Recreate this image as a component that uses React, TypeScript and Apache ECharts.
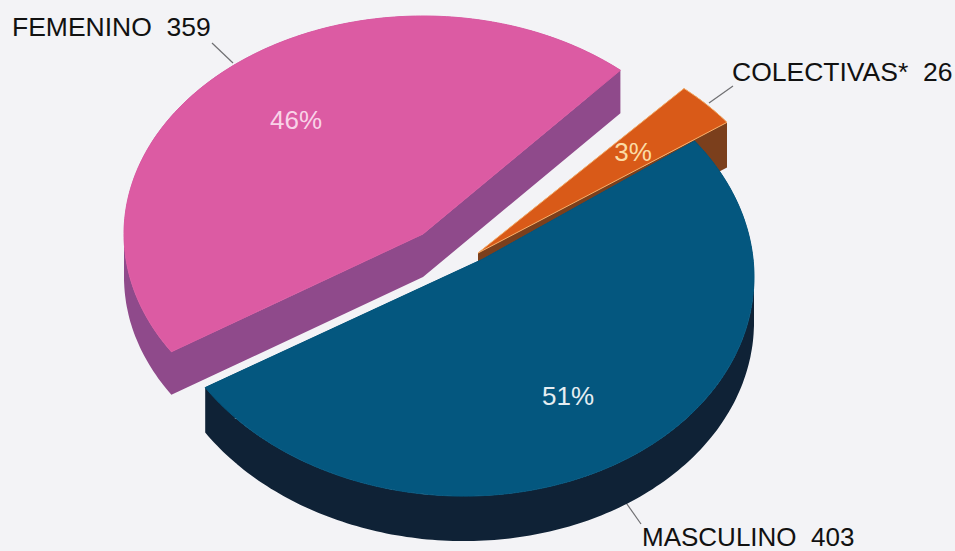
import React, { useEffect, useRef } from "react";
import * as echarts from "echarts";

// Data, in clockwise order around the pie
const categories = ["FEMENINO", "COLECTIVAS*", "MASCULINO"];
const counts = [359, 26, 403];

// Styles and layout, kept apart from the data
const topColors = ["#dc5ba3", "#d95a18", "#04577f"];
const sideColors = ["#8f4a8b", "#7b3f1c", "#0f2236"];
const edgeColors = ["#dc5ba3", "#f7b06c", "#04577f"];
const percentColors = ["#f9d3e8", "#fbdca6", "#e6eef2"];
const centersX = [423, 482, 456];
const centersY = [234, 256, 271];
const apexX = [423, 478, 483];
const apexY = [234, 253, 259];
const radiiX = [299, 306, 298];
const radiiY = [218, 223, 225];
const shears = [0, 0, 0.02];
const depths = [43, 45, 45];
const percentX = [296, 633, 568];
const percentY = [120, 152, 396];
const labelX = [12, 732, 642];
const labelY = [27, 72, 537];
const labelSizes = [26.5, 26.5, 26];
const leaderLines = [
  [212, 43, 233, 63],
  [733, 86, 709, 103],
  [641, 524, 622, 497],
];
const START_ANGLE = 147.3;
const FAMILY = '"Liberation Sans", Arial, sans-serif';

function renderSlice(params: any, api: any) {
  const i = params.dataIndex;
  const total = counts.reduce((a, b) => a + b, 0);
  const before = counts.slice(0, i).reduce((a, b) => a + b, 0);
  const value = api.value(0);
  const from = START_ANGLE + (before / total) * 360;
  const sweep = (value / total) * 360;

  const cx = centersX[i];
  const cy = centersY[i];
  const pts: number[][] = [[apexX[i], apexY[i]]];
  const steps = Math.max(4, Math.ceil(sweep));
  for (let s = 0; s <= steps; s++) {
    const t = ((from + (sweep * s) / steps) * Math.PI) / 180;
    const dx = radiiX[i] * Math.cos(t);
    pts.push([cx + dx, cy + radiiY[i] * Math.sin(t) + shears[i] * dx]);
  }

  const d = depths[i];
  let wall = "";
  pts.forEach((p, k) => {
    const q = pts[(k + 1) % pts.length];
    const quad = [p, q, [q[0], q[1] + d], [p[0], p[1] + d]];
    let area = 0;
    quad.forEach((a, n) => {
      const b = quad[(n + 1) % 4];
      area += a[0] * b[1] - b[0] * a[1];
    });
    if (area < 0) quad.reverse();
    wall +=
      "M" + quad.map((c) => c[0].toFixed(1) + " " + c[1].toFixed(1)).join("L") + "Z";
  });

  const line = leaderLines[i];
  const percent = Math.round((value / total) * 100) + "%";
  const children: any[] = [
    {
      type: "line",
      shape: { x1: line[0], y1: line[1], x2: line[2], y2: line[3] },
      style: { stroke: "#6f6f72", lineWidth: 1.2 },
    },
    {
      type: "path",
      shape: { pathData: wall },
      style: { fill: sideColors[i] },
    },
    {
      type: "polygon",
      shape: { points: pts },
      style: { fill: topColors[i], stroke: edgeColors[i], lineWidth: 1 },
    },
    {
      type: "text",
      style: {
        text: percent,
        x: percentX[i],
        y: percentY[i],
        fill: percentColors[i],
        font: "26px " + FAMILY,
        textAlign: "center",
        textVerticalAlign: "middle",
      },
    },
    {
      type: "text",
      style: {
        text: categories[i] + "  " + value,
        x: labelX[i],
        y: labelY[i],
        fill: "#111111",
        font: labelSizes[i] + "px " + FAMILY,
        textAlign: "left",
        textVerticalAlign: "middle",
      },
    },
  ];
  return { type: "group", children };
}

export default function App() {
  const ref = useRef<HTMLDivElement>(null);
  useEffect(() => {
    const chart = echarts.init(ref.current!, null, { renderer: "svg" });
    chart.setOption({
      animation: false,
      backgroundColor: "#f3f3f6",
      series: [
        {
          type: "custom",
          coordinateSystem: "none",
          silent: true,
          renderItem: renderSlice,
          data: counts.map((v) => [v]),
        },
      ],
    });
    return () => chart.dispose();
  }, []);
  return (
    <div
      ref={ref}
      style={{ position: "fixed", left: 0, top: 0, width: 955, height: 551 }}
    />
  );
}
